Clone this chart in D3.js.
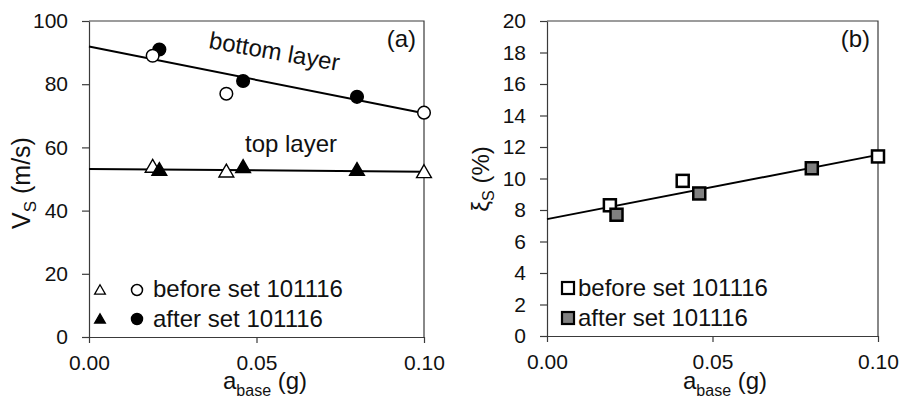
<!DOCTYPE html>
<html>
<head>
<meta charset="utf-8">
<script src="https://cdn.jsdelivr.net/npm/d3@7"></script>
<style>
  html, body { margin: 0; padding: 0; background: #fff; }
  svg { display: block; font-family: "Liberation Sans", Arial, sans-serif; }
</style>
</head>
<body>
<svg id="chart" width="904" height="405"></svg>
<script>
// ---------- data ----------
const xBefore = [0.019, 0.041, 0.100];
const xAfter  = [0.021, 0.046, 0.080];

const vsTopBefore    = [53.5, 52.0, 51.8];
const vsTopAfter     = [52.5, 53.4, 52.5];
const vsBottomBefore = [89, 77, 71];
const vsBottomAfter  = [91, 81, 76];

const dampBefore = [8.3, 9.85, 11.4];
const dampAfter  = [7.7, 9.05, 10.65];

// fitted trend lines: values at a_base = 0.00 and 0.10
const fitX         = [0.0, 0.10];
const fitVsBottom  = [91.9, 70.8];
const fitVsTop     = [53.2, 52.3];
const fitDamp      = [7.42, 11.5];

const xTicks   = [0.00, 0.05, 0.10];
const vsTicks  = [0, 20, 40, 60, 80, 100];
const dampTicks = [0, 2, 4, 6, 8, 10, 12, 14, 16, 18, 20];

const legendLabels = ["before set 101116", "after set 101116"];

// ---------- drawing ----------
const svg = d3.select("#chart");
const axisColor = "#3a3a3a";
const tickFont = 21;
const bigFont = 24;

function panel(opt) {
  const x = d3.scaleLinear().domain([0, 0.10]).range([opt.left, opt.right]);
  const y = d3.scaleLinear().domain(opt.yDomain).range([opt.bottom, opt.top]);
  const g = svg.append("g");

  // frame (top & right)
  g.append("path")
    .attr("d", `M${opt.left},${opt.top}H${opt.right}V${opt.bottom}`)
    .attr("fill", "none").attr("stroke", axisColor).attr("stroke-width", 1.2);

  const ya = d3.axisLeft(y).tickValues(opt.yTicks).tickSize(7).tickPadding(14).tickSizeOuter(0);
  const yg = g.append("g").attr("transform", `translate(${opt.left},0)`).call(ya);
  const xa = d3.axisBottom(x).tickValues(xTicks).tickFormat(d3.format(".2f")).tickSize(6).tickPadding(12).tickSizeOuter(0);
  const xg = g.append("g").attr("transform", `translate(0,${opt.bottom})`).call(xa);
  [yg, xg].forEach(a => {
    a.select(".domain").attr("stroke", axisColor).attr("stroke-width", 1.2);
    a.selectAll(".tick line").attr("stroke", axisColor).attr("stroke-width", 1.2);
    a.selectAll(".tick text").attr("fill", "#111").style("font-size", tickFont + "px")
      .style("font-family", "'Liberation Sans', Arial, sans-serif");
  });

  // x title
  const xt = g.append("text").attr("x", opt.xTitleX).attr("y", 389)
    .attr("fill", "#111").style("font-size", bigFont + "px");
  xt.append("tspan").text("a");
  xt.append("tspan").attr("dy", 7).style("font-size", "16px").text("base");
  xt.append("tspan").attr("dy", -7).text(" (g)");

  // panel tag
  g.append("text").attr("x", opt.right - 8).attr("y", 47).attr("text-anchor", "end")
    .attr("fill", "#111").style("font-size", bigFont + "px").text(opt.tag);

  return { g, x, y };
}

// ===== panel (a) =====
const A = panel({ left: 89, right: 424, top: 21, bottom: 337, yDomain: [0, 100], yTicks: vsTicks,
                  xTitleX: 223, tag: "(a)" });
// y title
{
  const t = A.g.append("text").attr("transform", "translate(30,183) rotate(-90)")
    .attr("text-anchor", "middle").attr("fill", "#111").style("font-size", "25px");
  t.append("tspan").text("V");
  t.append("tspan").attr("dy", 6).style("font-size", "17px").text("S");
  t.append("tspan").attr("dy", -6).text(" (m/s)");
}
const line = (sc) => d3.line().x(d => sc.x(d[0])).y(d => sc.y(d[1]));
A.g.append("path").datum(d3.zip(fitX, fitVsBottom)).attr("d", line(A))
  .attr("fill", "none").attr("stroke", "#000").attr("stroke-width", 2);
A.g.append("path").datum(d3.zip(fitX, fitVsTop)).attr("d", line(A))
  .attr("fill", "none").attr("stroke", "#000").attr("stroke-width", 2);

const triSym = d3.symbol().type(d3.symbolTriangle).size(95);
const triSymLeg = d3.symbol().type(d3.symbolTriangle).size(50);

function tris(g, sc, xs, ys, fill) {
  g.selectAll(null).data(d3.zip(xs, ys)).enter().append("path")
    .attr("d", triSym).attr("transform", d => `translate(${sc.x(d[0])},${sc.y(d[1])})`)
    .attr("fill", fill).attr("stroke", "#000").attr("stroke-width", 1.4);
}
function circs(g, sc, xs, ys, fill) {
  g.selectAll(null).data(d3.zip(xs, ys)).enter().append("circle")
    .attr("cx", d => sc.x(d[0])).attr("cy", d => sc.y(d[1])).attr("r", 6.3)
    .attr("fill", fill).attr("stroke", "#000").attr("stroke-width", 1.5);
}
tris(A.g, A, xBefore, vsTopBefore, "#fff");
tris(A.g, A, xAfter, vsTopAfter, "#000");
circs(A.g, A, xAfter, vsBottomAfter, "#000");
circs(A.g, A, xBefore, vsBottomBefore, "#fff");

// annotations
A.g.append("text").attr("transform", "translate(208,48) rotate(10)")
  .attr("fill", "#111").style("font-size", bigFont + "px").text("bottom layer");
A.g.append("text").attr("x", 245).attr("y", 152)
  .attr("fill", "#111").style("font-size", bigFont + "px").text("top layer");

// legend (a)
[["#fff", 290, 297], ["#000", 319, 327]].forEach((r, i) => {
  A.g.append("path").attr("d", triSymLeg).attr("transform", `translate(100,${r[1] + 1})`)
    .attr("fill", r[0]).attr("stroke", "#000").attr("stroke-width", 1.3);
  A.g.append("circle").attr("cx", 137).attr("cy", r[1]).attr("r", 5.5)
    .attr("fill", r[0]).attr("stroke", "#000").attr("stroke-width", 1.5);
  A.g.append("text").attr("x", 153).attr("y", r[2]).attr("fill", "#111")
    .style("font-size", bigFont + "px").text(legendLabels[i]);
});

// ===== panel (b) =====
const B = panel({ left: 547, right: 878, top: 21, bottom: 336, yDomain: [0, 20], yTicks: dampTicks,
                  xTitleX: 683, tag: "(b)" });
{
  const t = B.g.append("text").attr("transform", "translate(489,179) rotate(-90)")
    .attr("text-anchor", "middle").attr("fill", "#111").style("font-size", bigFont + "px");
  t.append("tspan").text("ξ");
  t.append("tspan").attr("dy", 5).style("font-size", "16px").text("S");
  t.append("tspan").attr("dy", -5).text(" (%)");
}
B.g.append("path").datum(d3.zip(fitX, fitDamp)).attr("d", line(B))
  .attr("fill", "none").attr("stroke", "#000").attr("stroke-width", 2);

function squares(g, sc, xs, ys, fill) {
  g.selectAll(null).data(d3.zip(xs, ys)).enter().append("rect")
    .attr("x", d => sc.x(d[0]) - 6).attr("y", d => sc.y(d[1]) - 6)
    .attr("width", 12).attr("height", 12)
    .attr("fill", fill).attr("stroke", "#000").attr("stroke-width", 2.5);
}
squares(B.g, B, xBefore, dampBefore, "#fff");
squares(B.g, B, xAfter, dampAfter, "#808080");

// legend (b)
[["#fff", 288, 296], ["#808080", 318, 326]].forEach((r, i) => {
  B.g.append("rect").attr("x", 562).attr("y", r[1] - 6).attr("width", 12).attr("height", 12)
    .attr("fill", r[0]).attr("stroke", "#000").attr("stroke-width", 2.2);
  B.g.append("text").attr("x", 578).attr("y", r[2]).attr("fill", "#111")
    .style("font-size", bigFont + "px").text(legendLabels[i]);
});
</script>
</body>
</html>
